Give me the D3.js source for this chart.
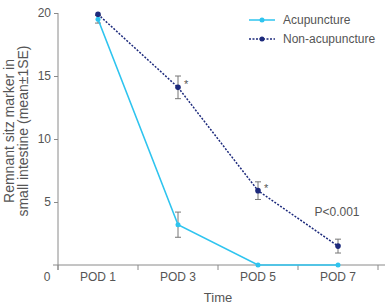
<!DOCTYPE html>
<html>
<head>
<meta charset="utf-8">
<script src="https://cdn.jsdelivr.net/npm/d3@7"></script>
<style>
    body { margin: 0; background: #fff; }
    svg { font-family: "Liberation Sans", Arial, sans-serif; }
</style>
</head>
<body>
<div id="chart"></div>
<script>
const categories = ['POD 1', 'POD 3', 'POD 5', 'POD 7'];
const acupuncture = [19.5, 3.2, 0, 0];
const acupunctureSE = [0.3, 1.0, 0, 0];
const nonAcupuncture = [19.9, 14.1, 5.9, 1.5];
const nonAcupunctureSE = [0, 0.9, 0.7, 0.55];
const starred = [false, true, true, false];
const yTicks = [5, 10, 15, 20];

var width = 385, height = 304;
const margin = { left: 58, right: 7, top: 13, bottom: 39 };

const cyan = '#2ec4ef', navy = '#1d2a7c', axisGray = '#8a8a8a', textGray = '#555';

var svg = d3.select('#chart')
    .append('svg')
    .attr('width', width)
    .attr('height', height);

const x = d3.scaleBand()
    .domain(categories)
    .range([margin.left, width - margin.right]);

const y = d3.scaleLinear()
    .domain([0, 20])
    .range([height - margin.bottom, margin.top]);

const cx = d => x(d) + x.bandwidth() / 2;

// y axis
const yAxis = svg.append('g')
    .attr('transform', `translate(${margin.left},0)`)
    .call(d3.axisLeft(y).tickValues(yTicks).tickSize(4).tickSizeOuter(0));
yAxis.select('.domain').attr('stroke', axisGray).attr('d', `M0,${y(20)}V${y(0) + 5}`);
yAxis.selectAll('.tick line').attr('stroke', axisGray);
yAxis.selectAll('.tick text').attr('fill', textGray).attr('font-size', 12).attr('x', -7);

// x axis
const xAxis = svg.append('g')
    .attr('transform', `translate(0,${y(0)})`)
    .call(d3.axisBottom(x).tickSize(0));
xAxis.select('.domain').attr('stroke', axisGray).attr('d', `M${margin.left - 5},0H${width}`);
xAxis.selectAll('.tick text').attr('fill', textGray).attr('font-size', 12).attr('dy', 0).attr('y', 16);
// boundary ticks between bands
xAxis.selectAll('.sep')
    .data(d3.range(categories.length + 1))
    .enter()
    .append('line')
    .attr('x1', i => margin.left + i * x.bandwidth())
    .attr('x2', i => margin.left + i * x.bandwidth())
    .attr('y1', 0)
    .attr('y2', 5)
    .attr('stroke', axisGray);

svg.append('text')
    .attr('x', margin.left - 11)
    .attr('y', y(0) + 16)
    .attr('text-anchor', 'middle')
    .attr('fill', textGray)
    .attr('font-size', 12)
    .text('0');

// axis titles
svg.append('text')
    .attr('transform', `translate(14,131) rotate(-90)`)
    .attr('text-anchor', 'middle')
    .attr('fill', textGray)
    .attr('font-size', 14)
    .selectAll('tspan')
    .data(['Remnant sitz marker in', 'small intestine (mean\u00b11SE)'])
    .enter()
    .append('tspan')
    .attr('x', 0)
    .attr('dy', (d, i) => i ? 13.5 : 0)
    .text(d => d);

svg.append('text')
    .attr('x', (margin.left + width - margin.right) / 2)
    .attr('y', height - 2)
    .attr('text-anchor', 'middle')
    .attr('fill', textGray)
    .attr('font-size', 13)
    .text('Time');

// error bars
function errorBars(values, se) {
    const g = svg.append('g');
    values.forEach((v, i) => {
        if (!se[i]) return;
        const xx = cx(categories[i]);
        g.append('path')
            .attr('d', `M${xx - 3},${y(v + se[i])}H${xx + 3}M${xx},${y(v + se[i])}V${y(v - se[i])}M${xx - 3},${y(v - se[i])}H${xx + 3}`)
            .attr('stroke', '#777')
            .attr('stroke-width', 1)
            .attr('fill', 'none');
    });
}
errorBars(acupuncture, acupunctureSE);
errorBars(nonAcupuncture, nonAcupunctureSE);

const line = d3.line()
    .x((d, i) => cx(categories[i]))
    .y(d => y(d));

svg.append('path')
    .datum(acupuncture)
    .attr('d', line)
    .attr('fill', 'none')
    .attr('stroke', cyan)
    .attr('stroke-width', 1.6);

svg.append('path')
    .datum(nonAcupuncture)
    .attr('d', line)
    .attr('fill', 'none')
    .attr('stroke', navy)
    .attr('stroke-width', 1.5)
    .attr('stroke-dasharray', '2,1.5');

svg.selectAll('.pa')
    .data(acupuncture)
    .enter()
    .append('circle')
    .attr('cx', (d, i) => cx(categories[i]))
    .attr('cy', d => y(d))
    .attr('r', 2.5)
    .attr('fill', cyan);

svg.selectAll('.pn')
    .data(nonAcupuncture)
    .enter()
    .append('circle')
    .attr('cx', (d, i) => cx(categories[i]))
    .attr('cy', d => y(d))
    .attr('r', 2.8)
    .attr('fill', navy);

svg.selectAll('.star')
    .data(nonAcupuncture)
    .enter()
    .filter((d, i) => starred[i])
    .append('text')
    .attr('x', d => cx(categories[nonAcupuncture.indexOf(d)]) + 6)
    .attr('y', d => y(d) + 1)
    .attr('fill', textGray)
    .attr('font-size', 11)
    .text('*');

svg.append('text')
    .attr('x', 337)
    .attr('y', 216)
    .attr('text-anchor', 'middle')
    .attr('fill', textGray)
    .attr('font-size', 12)
    .text('P<0.001');

// legend
const legend = [
    { name: 'Acupuncture', color: cyan, dash: null },
    { name: 'Non-acupuncture', color: navy, dash: '2,1.5' }
];
const lg = svg.selectAll('.legend')
    .data(legend)
    .enter()
    .append('g')
    .attr('transform', (d, i) => `translate(249,${20 + i * 19})`);
lg.append('line')
    .attr('x1', 0).attr('x2', 26)
    .attr('stroke', d => d.color)
    .attr('stroke-width', 1.5)
    .attr('stroke-dasharray', d => d.dash);
lg.append('circle')
    .attr('cx', 13)
    .attr('r', 2.5)
    .attr('fill', d => d.color);
lg.append('text')
    .attr('x', 34)
    .attr('dy', '0.35em')
    .attr('fill', textGray)
    .attr('font-size', 12)
    .text(d => d.name);
</script>
</body>
</html>
